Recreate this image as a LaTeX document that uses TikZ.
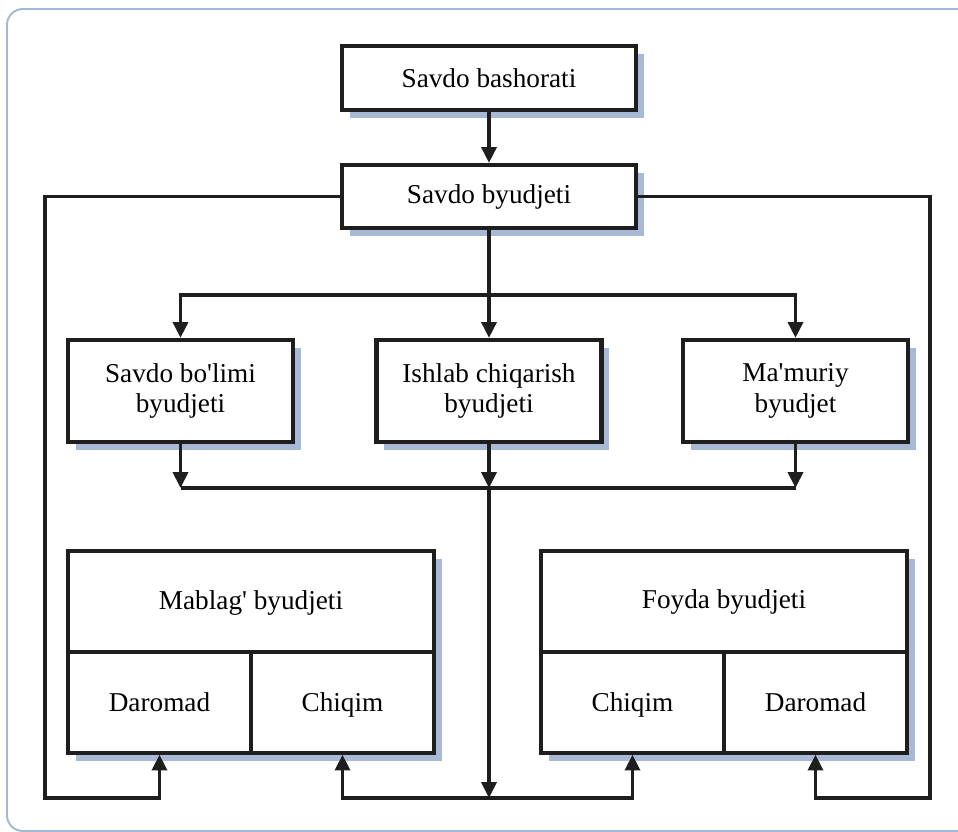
\documentclass[tikz,border=0pt]{standalone}
\usepackage{fontspec}
\setmainfont{Liberation Serif}[Ligatures=TeXOff]
\usetikzlibrary{arrows.meta,shadows}
\definecolor{shadowblue}{RGB}{168,185,214}
\definecolor{framecol}{RGB}{163,184,217}
\definecolor{linecol}{RGB}{30,30,30}

\begin{document}
\begin{tikzpicture}[x=0.02cm,y=-0.02cm,
    box/.style={draw=linecol,line width=2.4pt,fill=white,align=center,inner sep=0pt,
      font=\fontsize{15.5}{17.5}\selectfont,
      general shadow={fill=shadowblue,shadow xshift=4.5pt,shadow yshift=-4.5pt}},
    cell/.style={draw=linecol,line width=1.9pt,align=center,inner sep=0pt,
      font=\fontsize{15.5}{17.5}\selectfont,text height=11pt,text depth=0.6pt,
      minimum width=3.66cm,minimum height=2.02cm},
    con/.style={draw=linecol,line width=2pt},
    arr/.style={con,-{Triangle[width=8.5pt,length=9pt]}}]
  \useasboundingbox (0,0) rectangle (958,832);
  \begin{scope}
    \clip (0,0) rectangle (958,832);
    \draw[framecol,line width=1.1pt,rounded corners=9pt] (7,9) rectangle (975,831);
  \end{scope}

  % upper boxes
  \node[box,minimum width=5.88cm,minimum height=1.28cm] (bashorat) at (489,78) {Savdo bashorati};
  \node[box,minimum width=5.88cm,minimum height=1.26cm] (byudjet) at (489,196.5) {Savdo byudjeti};

  \foreach \name/\x/\txt in {bolim/180.5/{Savdo bo'limi\\byudjeti},
                             ishlab/489/{Ishlab chiqarish\\byudjeti},
                             mamur/795.5/{Ma'muriy\\byudjet}}
  {
    \node[box,minimum width=4.5cm,minimum height=2.04cm] (\name) at (\x,391) {\txt};
  }

  % split boxes
  \node[box,minimum width=7.32cm,minimum height=4.04cm] (mablag) at (251,652) {};
  \node[font=\fontsize{15.5}{17.5}\selectfont] (mtitle) at (251,602.5) {Mablag' byudjeti};
  \node[cell] (mdar) at (159.5,702.5) {Daromad};
  \node[cell] (mchi) at (342.5,702.5) {Chiqim};

  \node[box,minimum width=7.32cm,minimum height=4.04cm] (foyda) at (724,652) {};
  \node[font=\fontsize{15.5}{17.5}\selectfont] (ftitle) at (724,601.5) {Foyda byudjeti};
  \node[cell] (fchi) at (632.5,702.5) {Chiqim};
  \node[cell] (fdar) at (815.5,702.5) {Daromad};

  % connectors
  \coordinate (top) at (489,295);
  \coordinate (mid) at (489,488);
  \coordinate (bot) at (489,798);
  \coordinate (lb) at (45,798);
  \coordinate (rb) at (930,798);

  \draw[arr] (bashorat) -- (byudjet);
  \draw[con] (byudjet) -- (top);
  \foreach \b in {bolim,ishlab,mamur}
  {
    \draw[arr] (top) -| (\b.north);
    \draw[arr] (\b.south) -- (\b.south |- mid);
  }
  \draw[con] (bolim.south |- mid) -- (mamur.south |- mid);
  \draw[arr] (mid) -- (bot);
  \draw[arr] (bot) -| (mchi.south);
  \draw[arr] (bot) -| (fchi.south);

  \draw[arr] (byudjet.west) -| (lb) -| (mdar.south);
  \draw[arr] (byudjet.east) -| (rb) -| (fdar.south);
\end{tikzpicture}
\end{document}
